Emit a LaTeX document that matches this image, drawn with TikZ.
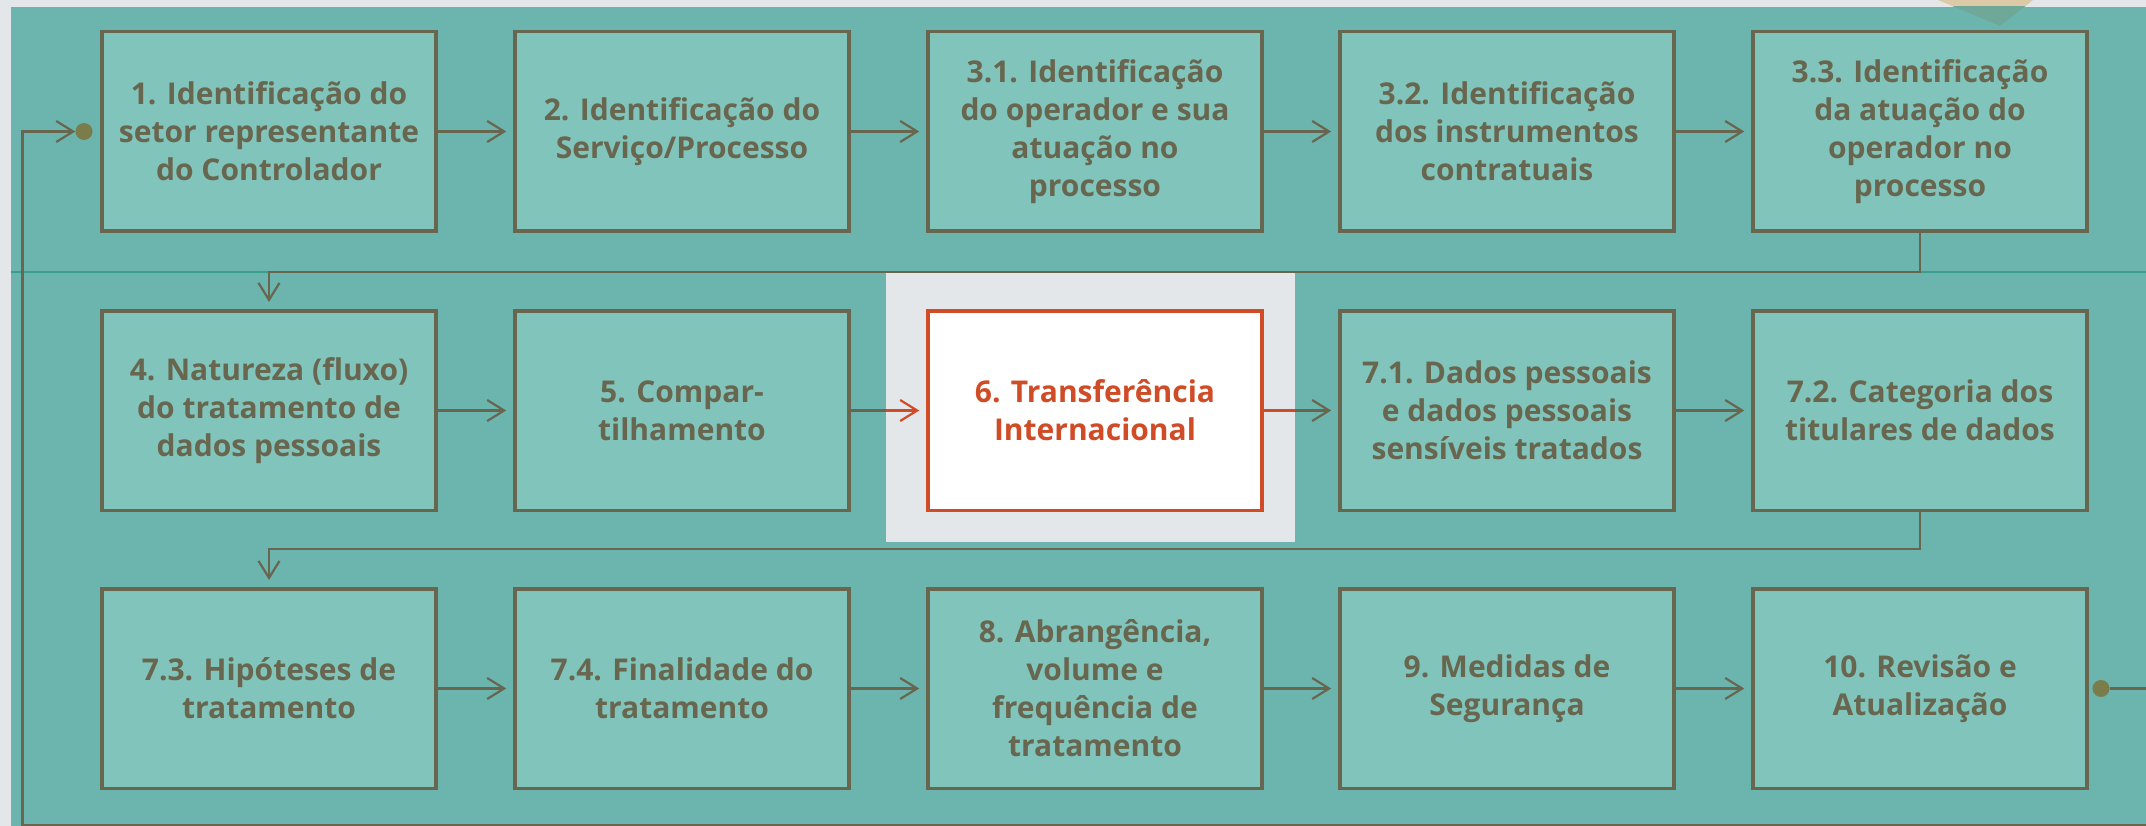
\documentclass[tikz,border=0pt]{standalone}
\usepackage{fontspec}
\setmainfont{Open Sans}
\usepackage{xcolor}
\usepackage{tikz}
\usetikzlibrary{positioning,arrows.meta}
\definecolor{pagegray}{RGB}{227,231,234}
\definecolor{panelteal}{RGB}{108,181,174}
\definecolor{boxteal}{RGB}{128,196,187}
\definecolor{lineolive}{RGB}{104,102,78}
\definecolor{hotorange}{RGB}{208,76,38}
\definecolor{dotolive}{RGB}{122,124,76}
\definecolor{seamteal}{RGB}{58,158,140}
\definecolor{sandbeige}{RGB}{220,201,166}
\definecolor{sandshade}{RGB}{111,168,152}

\begin{document}
\begin{tikzpicture}[x=1pt, y=-1pt, >={Straight Barb[length=17pt,width=21pt]}]
    \tikzstyle{stepbox} = [rectangle, minimum width=334pt, minimum height=199.5pt, inner sep=0pt, align=center, draw=lineolive, line width=3.5pt, fill=boxteal, text=lineolive, font=\fontsize{30}{38}\selectfont\bfseries]
    \tikzstyle{hotbox} = [stepbox, draw=hotorange, fill=white, text=hotorange]
    \tikzstyle{joindot} = [circle, minimum size=17pt, inner sep=0pt, fill=dotolive]
    \tikzstyle{link} = [draw=lineolive, line width=2.2pt]
    \tikzstyle{hotlink} = [draw=hotorange, line width=2.2pt]

    \clip (0,0) rectangle (2146,826);

    % Background
    \fill [pagegray] (0,0) rectangle (2146,826);
    \fill [sandbeige] (1938,0) -- (2033,0) -- (2000,26) -- cycle;
    \fill [panelteal] (10.7,6.7) rectangle (2146,826);
    \begin{scope}
        \clip (10.7,6.7) rectangle (2146,826);
        \fill [sandshade] (1938,0) -- (2033,0) -- (2000,26) -- cycle;
    \end{scope}
    \draw [seamteal, line width=1.2pt] (10.7,272) -- (2146,272);

    % Highlight behind step 6
    \node [fill=pagegray, minimum width=409pt, minimum height=270pt, inner sep=0pt] (hl) at (1090.5,407) {};
    \draw [hotorange, line width=1pt] (hl.north west) -- (hl.north east);

    % Row 1
    \node [stepbox] (s1) at (269,131.5) {1. Identificação do\\setor representante\\do Controlador};
    \node [stepbox] (s2) at (682,131.5) {2. Identificação do\\Serviço/Processo};
    \node [stepbox] (s31) at (1095,131.5) {3.1. Identificação\\do operador e sua\\atuação no\\processo};
    \node [stepbox] (s32) at (1507,131.5) {3.2. Identificação\\dos instrumentos\\contratuais};
    \node [stepbox] (s33) at (1920,131.5) {3.3. Identificação\\da atuação do\\operador no\\processo};

    % Row 2
    \node [stepbox] (s4) at (269,410.5) {4. Natureza (fluxo)\\do tratamento de\\dados pessoais};
    \node [stepbox] (s5) at (682,410.5) {5. Compar-\\tilhamento};
    \node [hotbox] (s6) at (1095,410.5) {6. Transferência\\Internacional};
    \node [stepbox] (s71) at (1507,410.5) {7.1. Dados pessoais\\e dados pessoais\\sensíveis tratados};
    \node [stepbox] (s72) at (1920,410.5) {7.2. Categoria dos\\titulares de dados};

    % Row 3
    \node [stepbox] (s73) at (269,688.5) {7.3. Hipóteses de\\tratamento};
    \node [stepbox] (s74) at (682,688.5) {7.4. Finalidade do\\tratamento};
    \node [stepbox] (s8) at (1095,688.5) {8. Abrangência,\\volume e\\frequência de\\tratamento};
    \node [stepbox] (s9) at (1507,688.5) {9. Medidas de\\Segurança};
    \node [stepbox] (s10) at (1920,688.5) {10. Revisão e\\Atualização};

    % Loop ends
    \node [joindot] (d1) at (84,131.5) {};
    \node [joindot] (d10) at (2101,688.5) {};
    \coordinate (loopR) at (2170,688.5);
    \coordinate (loopL) at (22.5,825);

    % Arrows
    \draw [link,->,shorten >=7pt] (s1) -- (s2);
    \draw [link,->,shorten >=7pt] (s2) -- (s31);
    \draw [link,->,shorten >=7pt] (s31) -- (s32);
    \draw [link,->,shorten >=7pt] (s32) -- (s33);
    \draw [link,->,shorten >=7pt] (s33.south) -- ++(0,39) -| (s4.north);
    \draw [link,->,shorten >=7pt] (s4) -- (s5);
    \draw [link] (s5.east) -- (s5.east -| hl.west);
    \draw [hotlink,->,shorten >=7pt] (s5.east -| hl.west) -- (s6.west);
    \draw [hotlink] (s6.east) -- (s6.east -| hl.east);
    \draw [link,->,shorten >=7pt] (s6.east -| hl.east) -- (s71.west);
    \draw [link,->,shorten >=7pt] (s71) -- (s72);
    \draw [link,->,shorten >=7pt] (s72.south) -- ++(0,37) -| (s73.north);
    \draw [link,->,shorten >=7pt] (s73) -- (s74);
    \draw [link,->,shorten >=7pt] (s74) -- (s8);
    \draw [link,->,shorten >=7pt] (s8) -- (s9);
    \draw [link,->,shorten >=7pt] (s9) -- (s10);
    \draw [link,->] (d10.east) -- (loopR) |- (loopL) |- (d1.west);
\end{tikzpicture}
\end{document}
